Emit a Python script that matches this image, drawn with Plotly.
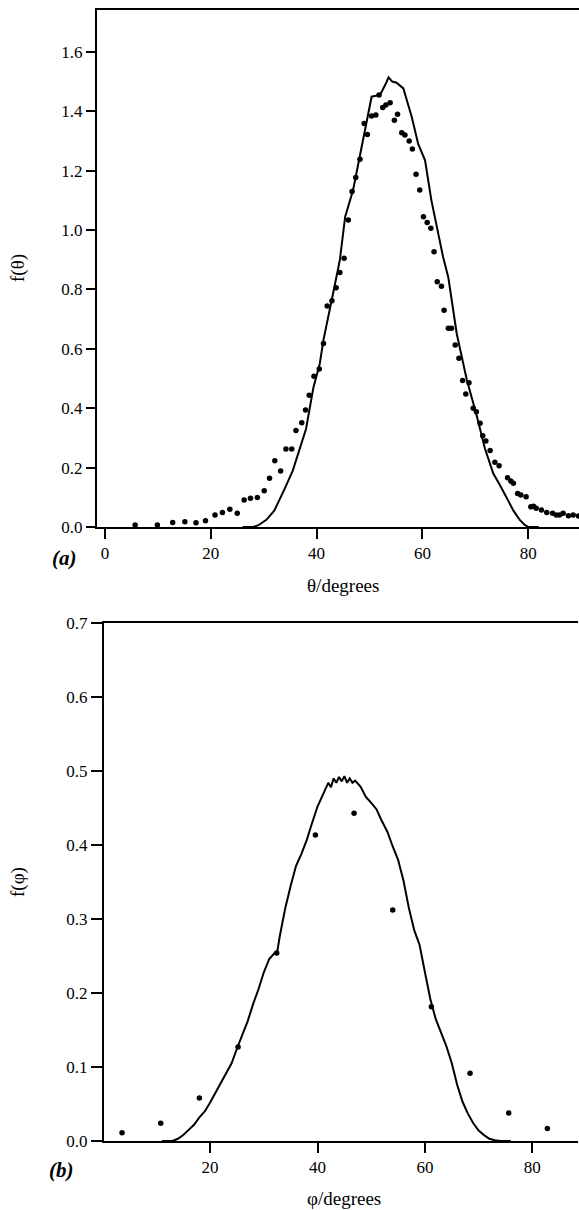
import plotly.graph_objects as go

# ---- Panel (a): theta distribution ----
theta_curve = [26, 28, 29, 30.5, 32, 33, 34, 35.5, 37, 38, 39.4, 40.6, 41.3, 42.5, 43.5,
               44.4, 45.4, 46.9, 48.5, 49.5, 50.4, 51.2, 52.0, 53.0, 53.6, 54.3, 55.1,
               56.4, 57.2, 58.0, 59.2, 60.5, 61.7, 62.8, 63.9, 64.9, 65.7, 66.5, 68.4,
               70.2, 71.8, 73.4, 74.7, 75.9, 77.2, 78.4, 79.3, 80, 82]
f_theta_curve = [0, 0, 0.006, 0.024, 0.055, 0.09, 0.13, 0.19, 0.27, 0.33, 0.47, 0.55,
                 0.63, 0.74, 0.82, 0.90, 1.045, 1.135, 1.28, 1.375, 1.449, 1.452, 1.455,
                 1.49, 1.514, 1.50, 1.496, 1.477, 1.43, 1.38, 1.29, 1.235, 1.10, 1.00,
                 0.91, 0.84, 0.75, 0.65, 0.495, 0.38, 0.265, 0.18, 0.14, 0.10, 0.055,
                 0.024, 0.008, 0, 0]

theta_dots = [5.7, 9.9, 12.8, 15.1, 17.2, 19.0, 20.8, 22.2, 23.6, 25.0, 26.3, 27.5, 28.8,
              30.1, 31.1, 32.1, 33.2, 34.2, 35.3, 36.1, 37.2, 37.9, 38.6, 39.5, 40.5,
              41.3, 42.0, 42.9, 43.7, 44.4, 45.2, 46.0, 46.7, 47.4, 48.2, 49.0, 49.6,
              50.4, 51.2, 51.8, 52.5, 53.1, 53.9, 54.7, 55.3, 56.1, 56.7, 57.5, 58.1,
              58.8, 59.5, 60.2, 60.9, 61.6, 62.2, 62.8, 63.6, 64.1, 64.9, 65.5, 66.2,
              66.9, 67.6, 68.2, 68.8, 69.6, 70.2, 70.9, 71.4, 72.0, 72.8, 73.7, 74.5,
              76.1, 76.7, 77.2, 78.0, 78.6, 79.6, 80.5, 81.0, 81.5, 82.5, 83.5, 84.6,
              85.3, 85.9, 86.6, 87.6, 88.5, 89.5]
f_theta_dots = [0.007, 0.007, 0.015, 0.018, 0.014, 0.021, 0.040, 0.049, 0.060, 0.046, 0.091,
                0.097, 0.099, 0.122, 0.164, 0.223, 0.189, 0.263, 0.263, 0.325, 0.351, 0.394,
                0.444, 0.508, 0.532, 0.618, 0.744, 0.762, 0.806, 0.857, 0.905, 1.034, 1.130,
                1.177, 1.238, 1.359, 1.322, 1.384, 1.387, 1.455, 1.413, 1.421, 1.429, 1.370,
                1.390, 1.328, 1.320, 1.300, 1.273, 1.188, 1.135, 1.045, 1.025, 1.006, 0.927,
                0.826, 0.811, 0.730, 0.669, 0.669, 0.613, 0.568, 0.493, 0.448, 0.486, 0.400,
                0.388, 0.349, 0.307, 0.290, 0.258, 0.218, 0.206, 0.166, 0.155, 0.147, 0.113,
                0.108, 0.102, 0.068, 0.070, 0.063, 0.057, 0.049, 0.046, 0.040, 0.040, 0.046,
                0.038, 0.040, 0.037]

# ---- Panel (b): phi distribution ----
phi_curve = [11, 13, 14, 15, 16, 17, 18, 19, 20, 21, 22, 23, 24, 25, 26, 27, 28, 29, 30, 31,
             32, 32.5, 33, 34, 35, 36, 37, 38, 39, 40, 41, 42, 42.5, 43, 43.5, 44, 44.5, 45,
             45.5, 46, 46.5, 47, 48, 49, 50, 51, 52, 53, 54, 55, 56, 57, 58, 59, 60, 61, 62,
             63, 64, 65, 66, 67, 68, 69, 70, 71, 72, 73, 74, 76]
f_phi_curve = [0, 0, 0.003, 0.008, 0.015, 0.022, 0.032, 0.040, 0.052, 0.065, 0.078, 0.092,
               0.105, 0.125, 0.143, 0.162, 0.185, 0.205, 0.228, 0.246, 0.254, 0.256, 0.278,
               0.315, 0.345, 0.372, 0.388, 0.407, 0.430, 0.452, 0.468, 0.484, 0.478, 0.490,
               0.484, 0.492, 0.486, 0.493, 0.484, 0.490, 0.484, 0.487, 0.479, 0.465, 0.457,
               0.448, 0.432, 0.418, 0.398, 0.380, 0.352, 0.315, 0.285, 0.265, 0.228, 0.192,
               0.165, 0.147, 0.128, 0.105, 0.076, 0.053, 0.037, 0.024, 0.014, 0.008, 0.003,
               0.001, 0, 0]

phi_dots = [3.6, 10.8, 18.0, 25.2, 32.4, 39.6, 46.8, 54.0, 61.2, 68.4, 75.6, 82.8]
f_phi_dots = [0.011, 0.024, 0.058, 0.127, 0.254, 0.4135, 0.443, 0.312, 0.1815, 0.0915,
              0.038, 0.017]

theta_ticks = [0, 20, 40, 60, 80]
phi_ticks = [20, 40, 60, 80]
f_theta_ticks = [0.0, 0.2, 0.4, 0.6, 0.8, 1.0, 1.2, 1.4, 1.6]
f_phi_ticks = [0.0, 0.1, 0.2, 0.3, 0.4, 0.5, 0.6, 0.7]

FONT = "Liberation Serif"
W, H = 579, 1210
L, R, T, B = 97, 0, 10, 69
PW = W - L - R
PH = H - T - B


def px(xp):
    return (xp - L) / PW


def py(yp):
    return (H - B - yp) / PH


fig = go.Figure()
fig.add_trace(go.Scatter(x=theta_curve, y=f_theta_curve, mode="lines",
                         line=dict(color="black", width=2), xaxis="x", yaxis="y",
                         showlegend=False))
fig.add_trace(go.Scatter(x=theta_dots, y=f_theta_dots, mode="markers",
                         marker=dict(color="black", size=5.5), xaxis="x", yaxis="y",
                         showlegend=False))
fig.add_trace(go.Scatter(x=phi_curve, y=f_phi_curve, mode="lines",
                         line=dict(color="black", width=2), xaxis="x2", yaxis="y2",
                         showlegend=False))
fig.add_trace(go.Scatter(x=phi_dots, y=f_phi_dots, mode="markers",
                         marker=dict(color="black", size=5.5), xaxis="x2", yaxis="y2",
                         showlegend=False))

axis_common = dict(showgrid=False, zeroline=False, showline=True, linecolor="black",
                   linewidth=2, ticks="outside", tickcolor="black", tickwidth=2,
                   tickfont=dict(family=FONT, size=17, color="black"))

fig.update_layout(
    width=W, height=H,
    margin=dict(l=L, r=R, t=T, b=B),
    paper_bgcolor="white", plot_bgcolor="white",
    xaxis=dict(domain=[0, 1], range=[-1.51, 89.6], tickvals=theta_ticks, ticklen=10,
               mirror=True, anchor="y", **axis_common),
    yaxis=dict(domain=[py(527), 1], range=[0, 1.741], tickvals=f_theta_ticks,
               tickformat=".1f", ticklen=9, anchor="x", **axis_common),
    xaxis2=dict(domain=[px(104), px(578)], range=[0.24, 88.5], tickvals=phi_ticks,
                ticklen=10, mirror=True, anchor="y2", **axis_common),
    yaxis2=dict(domain=[0, py(623)], range=[0, 0.7], tickvals=f_phi_ticks,
                tickformat=".1f", ticklen=11, anchor="x2", **axis_common),
)

ann_font = dict(family=FONT, size=19, color="black")
annotations = [
    dict(text="f(θ)", x=px(18), y=py(268), textangle=-90, font=ann_font),
    dict(text="θ/degrees", x=px(343), y=py(585), font=ann_font),
    dict(text="<b><i>(a)</i></b>", x=px(64), y=py(558),
         font=dict(family=FONT, size=21, color="black")),
    dict(text="f(φ)", x=px(18), y=py(882), textangle=-90, font=ann_font),
    dict(text="φ/degrees", x=px(344), y=py(1198), font=ann_font),
    dict(text="<b><i>(b)</i></b>", x=px(61), y=py(1170),
         font=dict(family=FONT, size=21, color="black")),
]
for a in annotations:
    a.update(xref="paper", yref="paper", showarrow=False, xanchor="center",
             yanchor="middle")
fig.update_layout(annotations=annotations)

fig.write_html("out.html")
